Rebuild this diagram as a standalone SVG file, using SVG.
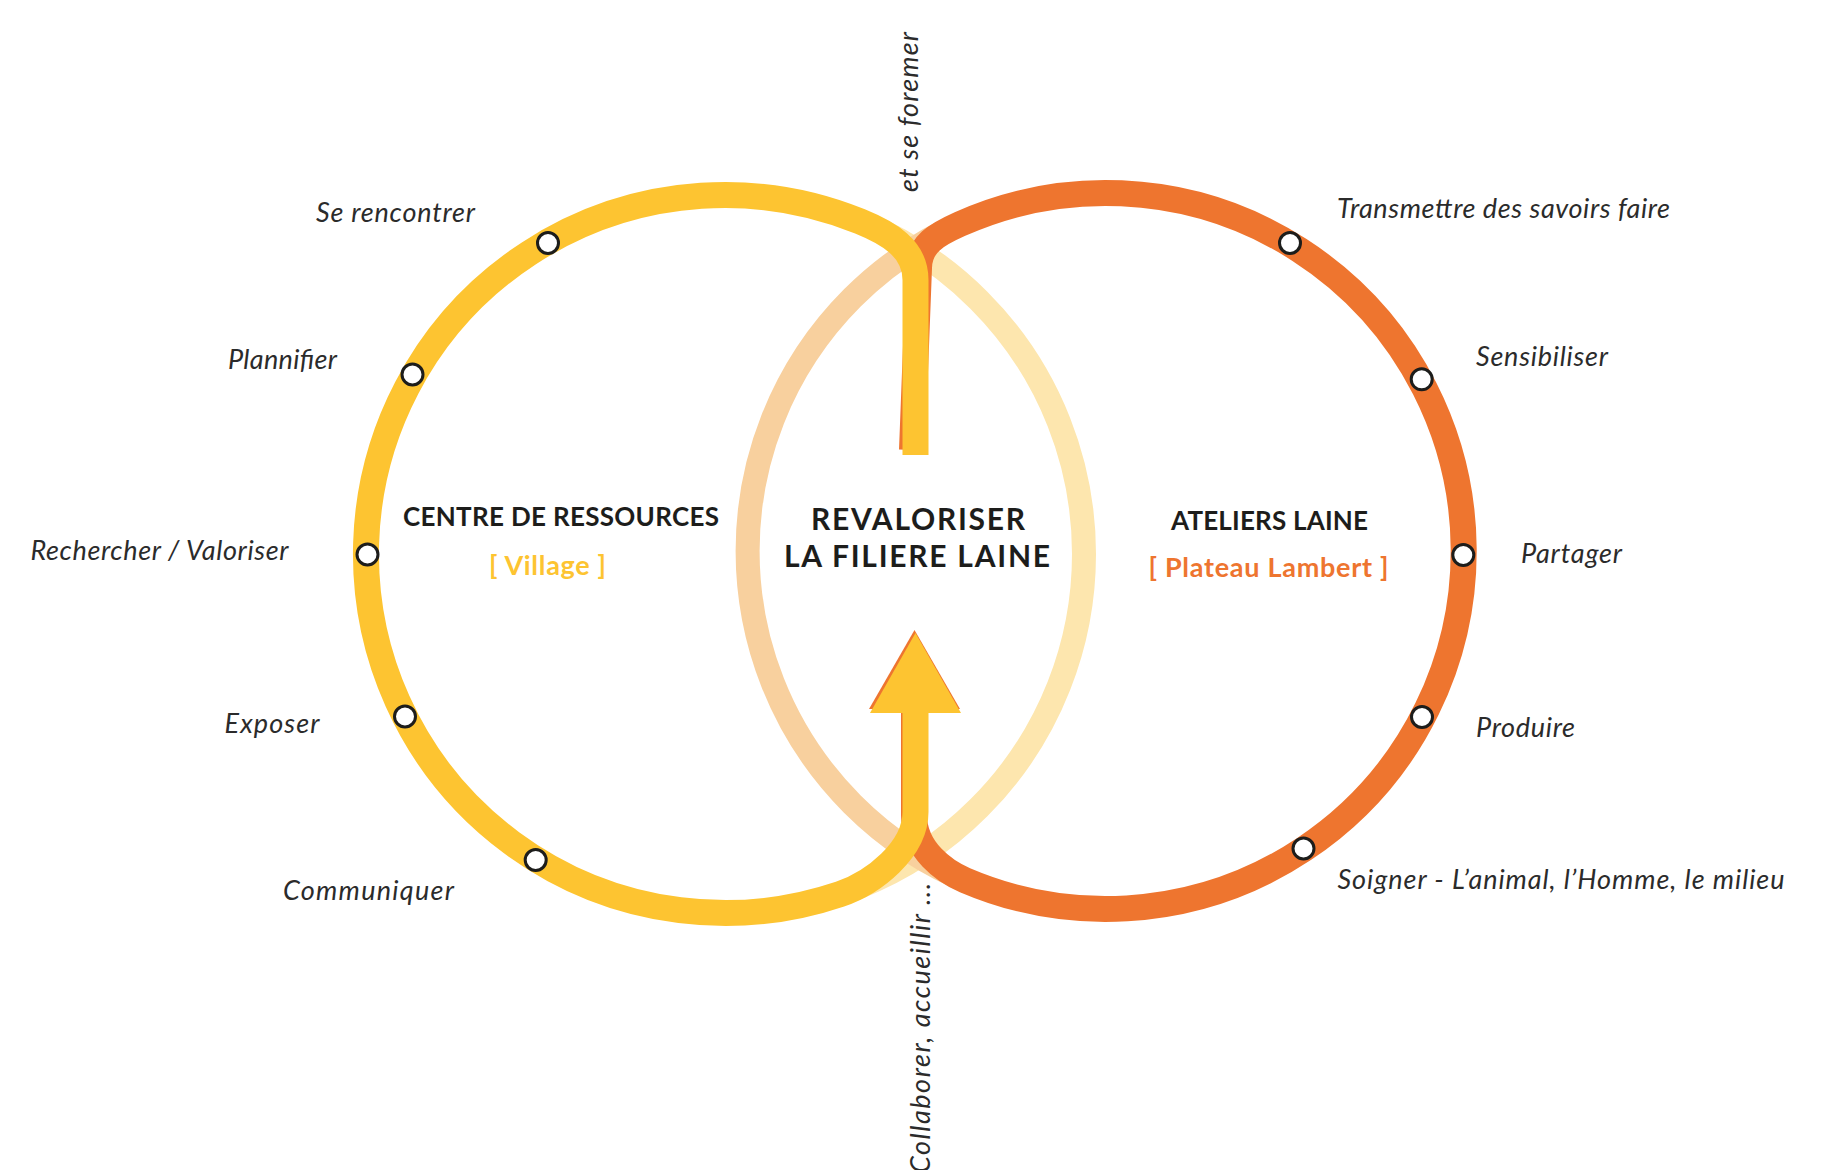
<svg xmlns="http://www.w3.org/2000/svg" width="1834" height="1170" viewBox="0 0 1834 1170">
<style>
.lbl{font-family:Lato,"Noto Sans","Liberation Sans",sans-serif;font-style:italic;font-weight:400;font-size:27px;fill:#2b2b2b}
.ttl{font-family:Lato,"Noto Sans","Liberation Sans",sans-serif;font-weight:700;fill:#1d1d1b}
.stop{fill:#ffffff;stroke:#1d1d1b;stroke-width:3}
.ring{fill:none;stroke-width:26}
</style>
<rect width="1834" height="1170" fill="#ffffff"/>
<g id="connectors">
  <circle cx="725" cy="554" r="359" fill="none" stroke="#FDE6AE" stroke-width="24"/>
  <circle cx="1105.6" cy="551" r="358" fill="none" stroke="#F8D09E" stroke-width="24"/>
  <g id="orange-line">
    <path class="ring" stroke="#EE752F" d="M912 450 L919 268 C919 244 937.2 234.2 960 224 A358 358 0 1 1 965 880.2 C944.8 871.6 914 850 914 815 L914 705"/>
    <polygon points="914.5,630 869,709 960,709" fill="#EE752F"/>
  </g>
  <g id="yellow-line">
    <path class="ring" stroke="#FDC431" d="M915.5 455 L915.5 280 C915.5 248 887.8 232.7 860 221.4 A359 359 0 1 0 840 894.1 C873.2 882.9 915.5 850 915.5 812 L915.5 710"/>
    <polygon points="915.5,633 870,713 961,713" fill="#FDC431"/>
  </g>
</g>
<g id="n-se-rencontrer"><circle class="stop" cx="548" cy="243" r="10.5"/><text class="lbl" x="316" y="222" textLength="159">Se rencontrer</text></g>
<g id="n-plannifier"><circle class="stop" cx="412.5" cy="374.5" r="10.5"/><text class="lbl" x="228" y="369" textLength="109">Plannifier</text></g>
<g id="n-rechercher"><circle class="stop" cx="367.5" cy="554.5" r="10.5"/><text class="lbl" x="30.5" y="560" textLength="258">Rechercher / Valoriser</text></g>
<g id="n-exposer"><circle class="stop" cx="405" cy="716.5" r="10.5"/><text class="lbl" x="224.5" y="733" textLength="95">Exposer</text></g>
<g id="n-communiquer"><circle class="stop" cx="535.7" cy="860" r="10.5"/><text class="lbl" x="283" y="900" textLength="171">Communiquer</text></g>
<g id="n-transmettre"><circle class="stop" cx="1290" cy="243" r="10.5"/><text class="lbl" x="1337" y="218" textLength="333">Transmettre des savoirs faire</text></g>
<g id="n-sensibiliser"><circle class="stop" cx="1421.7" cy="379.3" r="10.5"/><text class="lbl" x="1476" y="366" textLength="132">Sensibiliser</text></g>
<g id="n-partager"><circle class="stop" cx="1463.3" cy="555" r="10.5"/><text class="lbl" x="1521" y="563" textLength="101">Partager</text></g>
<g id="n-produire"><circle class="stop" cx="1422" cy="717" r="10.5"/><text class="lbl" x="1476" y="737" textLength="99">Produire</text></g>
<g id="n-soigner"><circle class="stop" cx="1303.5" cy="848.5" r="10.5"/><text class="lbl" x="1337.5" y="889" textLength="447">Soigner - L’animal, l’Homme, le milieu</text></g>
<g id="centre-ressources">
  <text class="ttl" x="403" y="526" font-size="26" textLength="316">CENTRE DE RESSOURCES</text>
  <text class="ttl" x="489" y="575" font-size="27" textLength="117" style="fill:#FDC431">[ Village ]</text>
</g>
<g id="revaloriser">
  <text class="ttl" x="811" y="530" font-size="30" textLength="214">REVALORISER</text>
  <text class="ttl" x="784" y="567" font-size="30" textLength="266">LA FILIERE LAINE</text>
</g>
<g id="ateliers-laine">
  <text class="ttl" x="1171" y="530" font-size="26" textLength="197">ATELIERS LAINE</text>
  <text class="ttl" x="1148.5" y="577" font-size="27" textLength="240" style="fill:#EE752F">[ Plateau Lambert ]</text>
</g>
<g id="flow-labels">
  <text class="lbl" font-size="28" transform="translate(918 192) rotate(-90)" textLength="160">et se foremer</text>
  <text class="lbl" font-size="28" transform="translate(930 883) rotate(-90)" text-anchor="end" textLength="290">Collaborer, accueillir ...</text>
</g>
</svg>
